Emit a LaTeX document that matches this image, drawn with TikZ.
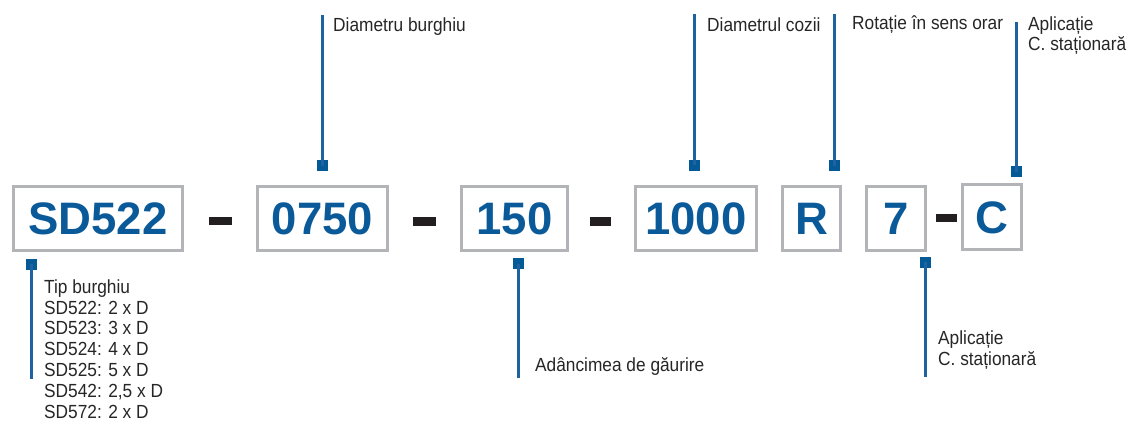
\documentclass[tikz,border=0pt]{standalone}
\usepackage{fontspec}
\setmainfont{Liberation Sans}
\newfontfamily\lblfont{Liberation Sans}[FakeStretch=0.91]
\definecolor{codeblue}{HTML}{0A5A99}
\definecolor{mkblue}{HTML}{045A97}
\definecolor{lnblue}{HTML}{1E62A0}
\definecolor{boxgray}{HTML}{B2B4B7}
\definecolor{dashblack}{HTML}{231F20}
\tikzset{
  codebox/.style={draw=boxgray, line width=2.7pt, fill=white, inner sep=0pt,
    minimum height=64.5pt, text height=32.6pt, text depth=0pt,
    font=\fontsize{45.5}{50}\selectfont\bfseries, text=codeblue},
  dashbar/.style={fill=dashblack, inner sep=0pt, minimum width=22pt, minimum height=8.5pt},
  marker/.style={fill=mkblue, inner sep=0pt, minimum size=11pt},
  leader/.style={draw=lnblue, line width=3pt},
  lbl/.style={inner sep=0pt, anchor=base west, align=left, text=black!85,
    font=\lblfont\fontsize{19}{20.8}\selectfont}
}
\begin{document}
\begin{tikzpicture}[x=1pt, y=-1pt]
\useasboundingbox (0,0) rectangle (1129,425);
% code boxes
\node[codebox, minimum width=169.5pt] (b1) at (98,218.5) {SD522};
\node[codebox, minimum width=130pt] (b2) at (322.5,218.5) {0750};
\node[codebox, minimum width=106pt] (b3) at (514.5,218.5) {150};
\node[codebox, minimum width=121pt] (b4) at (696,218.5) {1000};
\node[codebox, minimum width=58pt] (b5) at (811.5,218.5) {R};
\node[codebox, minimum width=59pt] (b6) at (896,218.5) {7};
\node[codebox, minimum width=59pt] (b7) at (992,217) {C};
% dashes
\node[dashbar, minimum width=23pt] (d1) at (220.5,221) {};
\node[dashbar, minimum width=23pt] (d2) at (424.5,221.5) {};
\node[dashbar, minimum width=21pt] (d3) at (600.5,221.5) {};
\node[dashbar, minimum width=21pt] (d4) at (946.5,218) {};
% markers
\node[marker] (m1) at (31.5,264) {};
\node[marker] (m2) at (322.5,165.5) {};
\node[marker] (m3) at (518.5,263.5) {};
\node[marker] (m4) at (694.5,165) {};
\node[marker] (m5) at (834.5,165.5) {};
\node[marker] (m6) at (925.5,262) {};
\node[marker] (m7) at (1016.5,171.5) {};
% leader ends
\coordinate (e1) at (31.5,379);
\coordinate (e2) at (322.5,15);
\coordinate (e3) at (518.5,378);
\coordinate (e4) at (694.5,14);
\coordinate (e5) at (834.5,14);
\coordinate (e6) at (925.5,377);
\coordinate (e7) at (1016.5,22);
\draw[leader] (m1.center) -- (e1);
\draw[leader] (m2.center) -- (e2);
\draw[leader] (m3.center) -- (e3);
\draw[leader] (m4.center) -- (e4);
\draw[leader] (m5.center) -- (e5);
\draw[leader] (m6.center) -- (e6);
\draw[leader] (m7.center) -- (e7);
% labels (base = last line's baseline)
\node[lbl] (t1) at (44,418) {Tip burghiu\\SD522: 2 x D\\SD523: 3 x D\\SD524: 4 x D\\SD525: 5 x D\\SD542: 2,5 x D\\SD572: 2 x D};
\node[lbl] (t2) at (333,32) {Diametru burghiu};
\node[lbl] (t3) at (535,371) {Adâncimea de găurire};
\node[lbl] (t4) at (707,32) {Diametrul cozii};
\node[lbl] (t5) at (852,29.5) {Rotație în sens orar};
\node[lbl] (t6) at (938,365) {Aplicație\\C. staționară};
\node[lbl] (t7) at (1028,51) {Aplicație\\C. staționară};
\end{tikzpicture}
\end{document}
